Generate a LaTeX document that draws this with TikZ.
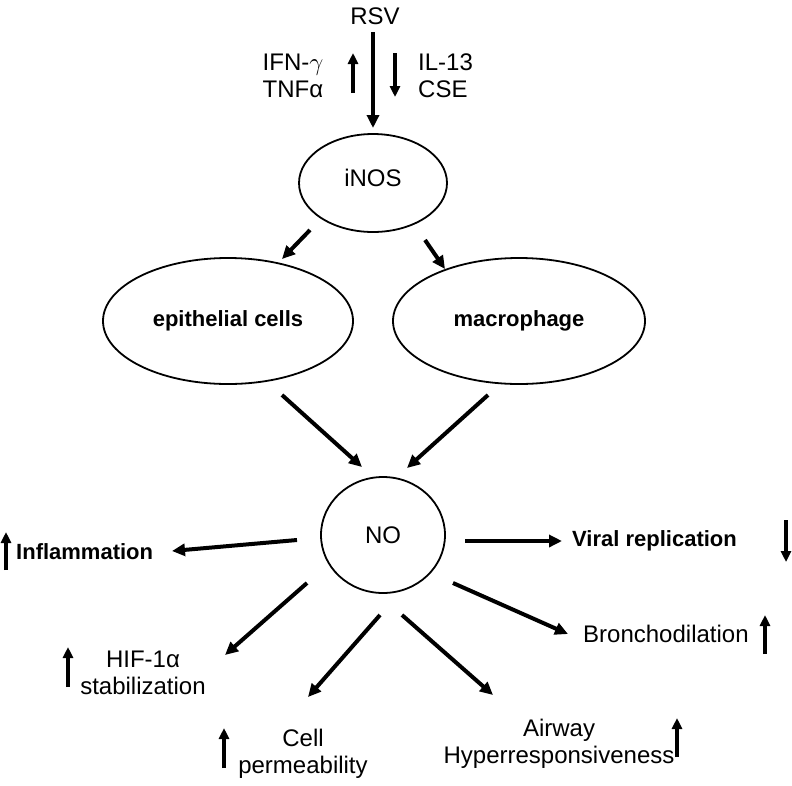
\documentclass[tikz,border=0pt]{standalone}
\usepackage{fontspec}
\setmainfont{Liberation Sans}
\usetikzlibrary{arrows.meta,shapes.geometric}

\begin{document}
\begin{tikzpicture}[x=1pt,y=-1pt,
    txt/.style={font=\fontsize{24}{27}\selectfont,inner sep=0pt,align=center},
    boldtxt/.style={font=\fontsize{22}{26}\selectfont\bfseries,inner sep=0pt},
    oval/.style={draw,ellipse,line width=1.8pt,inner sep=0pt},
    bigarrow/.style={line width=4pt,-{Triangle[length=13pt,width=12pt]}},
    tinyarrow/.style={line width=3.4pt,-{Triangle[length=11pt,width=10pt]}}]
    \useasboundingbox (0,0) rectangle (792,785);

    % top part
    \node[txt] (rsv) at (375,16) {RSV};
    \node[txt] (ifn) at (293,76) {IFN-$\gamma$\\TNFα};
    \node[txt,align=left,anchor=west] (il) at (418,76) {IL-13\\CSE};
    \coordinate (rsvS) at (373,32);
    \coordinate (rsvE) at (373,128);
    \coordinate (upS) at (353,93);
    \coordinate (upE) at (353,53);
    \coordinate (dnS) at (395,53);
    \coordinate (dnE) at (395,97);

    % cells
    \node[oval,minimum width=148,minimum height=98,txt] (inos) at (373,183) {\raisebox{11pt}{iNOS}};
    \node[oval,minimum width=250,minimum height=126,boldtxt] (epi) at (228,321) {epithelial cells};
    \node[oval,minimum width=252,minimum height=126,boldtxt] (mac) at (519,321) {macrophage};
    \node[oval,minimum width=124,minimum height=116,txt] (no) at (383,535) {NO};

    % effects
    \node[boldtxt,anchor=west] (infl) at (16,552) {Inflammation};
    \node[boldtxt,anchor=west] (viral) at (572,541) {Viral replication};
    \node[txt] (hif) at (143,673) {HIF-1α\\stabilization};
    \node[txt] (cell) at (303,754) {Cell\\permeability};
    \node[txt] (airway) at (559,744) {Airway\\Hyperresponsiveness};
    \node[txt,anchor=west] (broncho) at (583,634) {Bronchodilation};

    % arrow ends
    \coordinate (iA) at (310,230);  \coordinate (eA) at (282,259);
    \coordinate (iB) at (425,240);  \coordinate (mB) at (445,269);
    \coordinate (eC) at (282,395);  \coordinate (nC) at (362,467);
    \coordinate (mD) at (488,395);  \coordinate (nD) at (407,468);
    \coordinate (n1) at (297,540);  \coordinate (infl1) at (172,551);
    \coordinate (n2) at (465,541);  \coordinate (viral1) at (562,541);
    \coordinate (n3) at (307,583);  \coordinate (hif1) at (225,655);
    \coordinate (n4) at (380,615);  \coordinate (cell1) at (308,697);
    \coordinate (n5) at (402,615);  \coordinate (air1) at (493,695);
    \coordinate (n6) at (453,583);  \coordinate (bron1) at (568,634);

    \draw[bigarrow] (rsvS) -- (rsvE);
    \draw[tinyarrow] (upS) -- (upE);
    \draw[tinyarrow] (dnS) -- (dnE);
    \draw[bigarrow] (iA) -- (eA);
    \draw[bigarrow] (iB) -- (mB);
    \draw[bigarrow] (eC) -- (nC);
    \draw[bigarrow] (mD) -- (nD);
    \draw[bigarrow] (n1) -- (infl1);
    \draw[bigarrow] (n2) -- (viral1);
    \draw[bigarrow] (n3) -- (hif1);
    \draw[bigarrow] (n4) -- (cell1);
    \draw[bigarrow] (n5) -- (air1);
    \draw[bigarrow] (n6) -- (bron1);

    % up / down marks
    \draw[tinyarrow] (6,570) -- (6,532);
    \draw[tinyarrow] (786,520) -- (786,562);
    \draw[tinyarrow] (68,687) -- (68,647);
    \draw[tinyarrow] (224,768) -- (224,728);
    \draw[tinyarrow] (677,757) -- (677,718);
    \draw[tinyarrow] (765,654) -- (765,615);
\end{tikzpicture}
\end{document}
